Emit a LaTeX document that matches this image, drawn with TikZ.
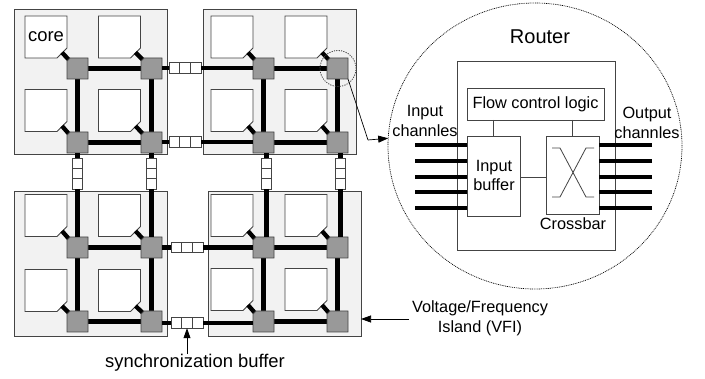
\documentclass[tikz,border=0pt]{standalone}
\usepackage{fontspec}
\setmainfont{Liberation Sans}
\usetikzlibrary{shapes.geometric,arrows.meta,calc}
\definecolor{islandfill}{HTML}{F2F2F2}
\definecolor{routerfill}{HTML}{999999}
\definecolor{edgegray}{HTML}{444444}
\tikzset{
  x=1pt,y=-1pt,
  island/.style={draw=edgegray,fill=islandfill,line width=1pt,rectangle,inner sep=0,outer sep=0},
  corepoly/.style={draw=edgegray,fill=white,line width=0.9pt,line join=miter},
  routerframe/.style={rectangle,minimum width=21pt,minimum height=21pt,inner sep=0,outer sep=0},
  routerpoly/.style={draw=edgegray,fill=routerfill,line width=0.9pt},
  link/.style={line width=4.3pt,black},
  stub/.style={line width=4.3pt,black},
  hbuf/.style={draw=edgegray,fill=white,line width=0.9pt,rectangle,minimum width=32pt,minimum height=10.5pt,inner sep=0,outer sep=0,
    path picture={\draw[edgegray,line width=0.9pt]
      ($(path picture bounding box.south west)!0.333!(path picture bounding box.south east)$) -- ($(path picture bounding box.north west)!0.333!(path picture bounding box.north east)$)
      ($(path picture bounding box.south west)!0.667!(path picture bounding box.south east)$) -- ($(path picture bounding box.north west)!0.667!(path picture bounding box.north east)$);}},
  vbuf/.style={draw=edgegray,fill=white,line width=0.9pt,rectangle,minimum width=10.5pt,minimum height=31pt,inner sep=0,outer sep=0,
    path picture={\draw[edgegray,line width=0.9pt]
      ($(path picture bounding box.south west)!0.333!(path picture bounding box.north west)$) -- ($(path picture bounding box.south east)!0.333!(path picture bounding box.north east)$)
      ($(path picture bounding box.south west)!0.667!(path picture bounding box.north west)$) -- ($(path picture bounding box.south east)!0.667!(path picture bounding box.north east)$);}},
  thinbox/.style={draw=edgegray,fill=white,line width=0.9pt,rectangle,inner sep=0,outer sep=0},
  thinline/.style={draw=edgegray,line width=0.8pt},
  chan/.style={line width=3.2pt,black},
  pointer/.style={draw=black,line width=0.7pt,-{Triangle[length=10pt,width=7pt]}},
  lbl/.style={font=\fontsize{16.3}{19}\selectfont,inner sep=0,align=center},
  lblbig/.style={font=\fontsize{18.4}{21}\selectfont,inner sep=0,align=center},
}
\newcommand{\corecell}[3]{%
  \coordinate (#1) at (#2,#3);
  \draw[corepoly] ($(#1)+(-21,-21)$) -- ($(#1)+(21,-21)$) -- ($(#1)+(21,11)$) -- ($(#1)+(11,21)$) -- ($(#1)+(-21,21)$) -- cycle;
}
\newcommand{\routercell}[3]{%
  \node[routerframe] (#1) at (#2,#3) {};
}
\newcommand{\routerdraw}[1]{%
  \draw[routerpoly] ($(#1.north west)+(3,0)$) -- (#1.north east) -- (#1.south east) -- (#1.south west) -- ($(#1.north west)+(0,3)$) -- cycle;
}
\newcommand{\islandset}[9]{%
  \corecell{#1c11}{#2}{#4}
  \corecell{#1c12}{#3}{#4}
  \corecell{#1c21}{#2}{#5}
  \corecell{#1c22}{#3}{#5}
  \routercell{#1r11}{#6}{#8}
  \routercell{#1r12}{#7}{#8}
  \routercell{#1r21}{#6}{#9}
  \routercell{#1r22}{#7}{#9}
  \draw[stub] ($(#1c11)+(16,15.5)$) -- ($(#1r11.north west)+(2,2)$);
  \draw[stub] ($(#1c12)+(16,15.5)$) -- ($(#1r12.north west)+(2,2)$);
  \draw[stub] ($(#1c21)+(16,15.5)$) -- ($(#1r21.north west)+(2,2)$);
  \draw[stub] ($(#1c22)+(16,15.5)$) -- ($(#1r22.north west)+(2,2)$);
  \draw[link] (#1r11) -- (#1r12);
  \draw[link] (#1r21) -- (#1r22);
  \draw[link] (#1r11) -- (#1r21);
  \draw[link] (#1r12) -- (#1r22);
  \routerdraw{#1r11}\routerdraw{#1r12}\routerdraw{#1r21}\routerdraw{#1r22}
}
\begin{document}
\begin{tikzpicture}
\useasboundingbox (0,0) rectangle (705,379);
% islands
\node[island,minimum width=153pt,minimum height=145pt] (tl) at (90.5,82.5) {};
\node[island,minimum width=153pt,minimum height=145pt] (tr) at (279.5,82.5) {};
\node[island,minimum width=153pt,minimum height=145pt] (bl) at (90.5,264.5) {};
\node[island,minimum width=153pt,minimum height=145pt] (br) at (284.5,264.5) {};
% sync buffers
\node[hbuf] (h1) at (185,68) {};
\node[hbuf] (h2) at (185,142) {};
\node[hbuf] (h3) at (187,247.5) {};
\node[hbuf] (h4) at (187,323) {};
\node[vbuf] (v1) at (77.5,173.5) {};
\node[vbuf] (v2) at (151.5,173.5) {};
\node[vbuf] (v3) at (266.5,173.5) {};
\node[vbuf] (v4) at (340.5,173.5) {};
\islandset{a}{46}{119.5}{37}{110.5}{77.5}{151.5}{68.5}{142.5}
\islandset{b}{232}{306}{37}{110.5}{263.5}{337.5}{68.5}{142.5}
\islandset{d}{46}{119.5}{215.5}{290.5}{77.5}{151.5}{247.5}{321.5}
\islandset{e}{232}{306}{215.5}{289.5}{263.5}{337.5}{247.5}{321.5}
\draw[link] (ar12.east |- h1) -- (h1.west);
\draw[link] (h1.east) -- (h1 -| br11.west);
\draw[link] (ar22.east |- h2) -- (h2.west);
\draw[link] (h2.east) -- (h2 -| br21.west);
\draw[link] (dr12.east |- h3) -- (h3.west);
\draw[link] (h3.east) -- (h3 -| er11.west);
\draw[link] (dr22.east |- h4) -- (h4.west);
\draw[link] (h4.east) -- (h4 -| er21.west);
\draw[link] (v1 |- ar21.south) -- (v1.north);
\draw[link] (v1.south) -- (v1 |- dr11.north);
\draw[link] (v2 |- ar22.south) -- (v2.north);
\draw[link] (v2.south) -- (v2 |- dr12.north);
\draw[link] (v3 |- br21.south) -- (v3.north);
\draw[link] (v3.south) -- (v3 |- er11.north);
\draw[link] (v4 |- br22.south) -- (v4.north);
\draw[link] (v4.south) -- (v4 |- er12.north);
% core label
\node[lblbig] (corelbl) at (46,37) {core};
% zoom circles
\node[draw=edgegray,dash pattern=on 1.2pt off 1.2pt,line width=0.8pt,circle,minimum size=36pt,inner sep=0] (zoomc) at (338,68.5) {};
\node[draw=black,dash pattern=on 0.9pt off 0.9pt,line width=0.7pt,ellipse,minimum width=294pt,minimum height=286pt,inner sep=0,outer sep=0] (big) at (535,146) {};
\coordinate (bend) at (368,140);
\draw[draw=black,line width=0.7pt] (br12.south east) -- (bend);
\draw[pointer] (bend) -- (big.177.6);
% router
\node[lbl,font=\fontsize{20}{22}\selectfont] (rt) at (540,37) {Router};
\node[thinbox,minimum width=158pt,minimum height=189pt] (rbox) at (536,155.5) {};
\node[thinbox,minimum width=137pt,minimum height=32pt] (flow) at (535.5,104) {};
\node[lbl] (flowt) at (flow) {Flow control logic};
\node[thinbox,minimum width=53pt,minimum height=80pt] (ib) at (493.5,176) {};
\node[lbl] (ibt) at (494,175.5) {Input\\[0.5pt]buffer};
\node[thinbox,minimum width=53pt,minimum height=78pt] (xb) at (572.5,175) {};
\draw[thinline] (flow.south -| ib) -- (ib.north);
\draw[thinline] (flow.south -| xb) -- (xb.north);
\draw[thinline] (ib.east |- 0,177) -- (xb.west |- 0,177);
% crossbar X
\coordinate (x1) at (552,148);\coordinate (x2) at (560,148);\coordinate (x3) at (586,197);\coordinate (x4) at (594,197);
\coordinate (y1) at (552,197);\coordinate (y2) at (560,197);\coordinate (y3) at (586,148);\coordinate (y4) at (594,148);
\draw[thinline] (x1) -- (x2) -- (x3) -- (x4);
\draw[thinline] (y1) -- (y2) -- (y3) -- (y4);
\node[lbl] (xbt) at (573,224) {Crossbar};
% channels
\foreach \n/\yy in {1/145,2/161,3/177,4/192,5/208}{
  \coordinate (ci\n) at (415,\yy);
  \coordinate (co\n) at (652,\yy);
  \draw[chan] (ci\n) -- (ci\n -| ib.west);
  \draw[chan] (co\n) -- (co\n -| xb.east);
}
\node[lbl] (intxt) at (425,121) {Input\\[1pt]channles};
\node[lbl] (outtxt) at (647,123) {Output\\[1pt]channles};
% bottom labels
\node[lblbig] (sync) at (195,363) {synchronization buffer};
\draw[pointer] (sync.north -| h4) -- (h4.south);
\node[lbl] (vfi) at (480,318) {Voltage/Frequency\\[1pt]Island (VFI)};
\coordinate (vfiarrow) at (409,319);
\draw[pointer] (vfiarrow) -- (br.east |- vfiarrow);
\end{tikzpicture}
\end{document}
